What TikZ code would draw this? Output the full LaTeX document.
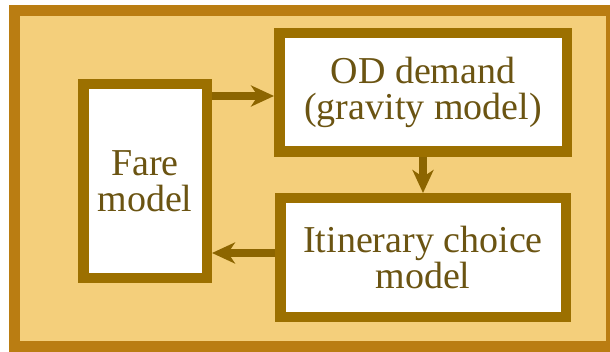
\documentclass[tikz,border=0pt]{standalone}
\usepackage{fontspec}
\setmainfont{Liberation Serif}
\usetikzlibrary{arrows.meta}
\definecolor{bgfill}{HTML}{F4CF7B}
\definecolor{frameline}{HTML}{BA7D12}
\definecolor{boxline}{HTML}{9C7000}
\definecolor{arrowline}{HTML}{8C6500}
\definecolor{labeltext}{HTML}{6B5412}
\tikzset{
  modelbox/.style={draw=boxline, fill=white, line width=10.5pt, align=center,
    text=labeltext, font=\fontsize{38}{36}\selectfont, inner sep=0pt},
  flow/.style={draw=arrowline, line width=7.5pt,
    -{Stealth[length=23pt,width=21pt,inset=7pt]}}
}
\begin{document}
\begin{tikzpicture}[x=1pt,y=1pt]
    \useasboundingbox (0,0) rectangle (610,351);
    \draw[draw=frameline, fill=bgfill, line width=11pt] (14.5,4.5) rectangle (611.5,340.5);
    % the three models
    \node[modelbox, minimum width=123.5pt, minimum height=193.5pt] (fare) at (145,170) {Fare\\model};
    \node[modelbox, minimum width=287.5pt, minimum height=118.5pt] (od) at (423,258.5) {OD demand\\(gravity model)};
    \node[modelbox, minimum width=285.5pt, minimum height=118.5pt] (itin) at (423,93.5) {Itinerary choice\\model};
    % flows
    \draw[flow] ([yshift=-3.5pt]fare.east |- od.west) -- ([yshift=-3.5pt]od.west);
    \draw[flow] (od.south) -- (itin.north);
    \draw[flow] ([yshift=4.5pt]itin.west) -- ([yshift=4.5pt]itin.west -| fare.east);
\end{tikzpicture}
\end{document}
